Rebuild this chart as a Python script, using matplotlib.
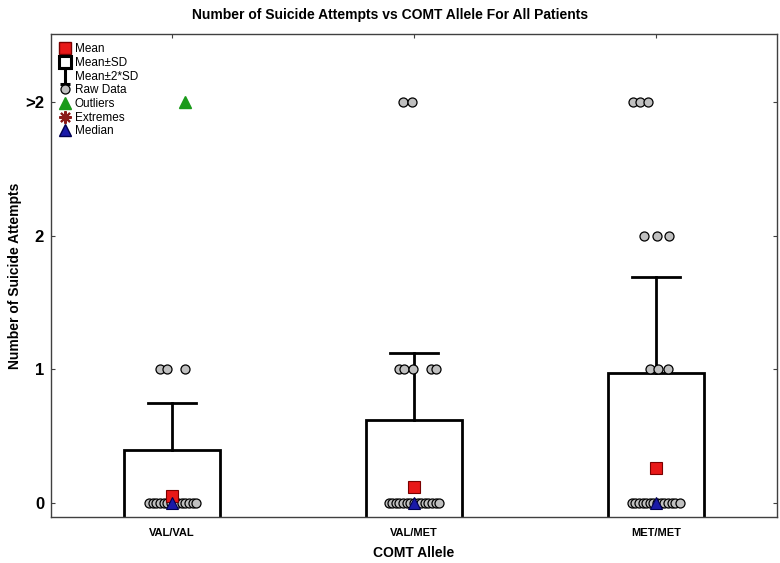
import matplotlib
matplotlib.use("Agg")
import matplotlib.pyplot as plt
from matplotlib.patches import Rectangle
from matplotlib.lines import Line2D
from matplotlib.path import Path

plt.rcParams['font.family'] = ['Liberation Sans', 'DejaVu Sans']

# data
groups = ["VAL/VAL", "VAL/MET", "MET/MET"]
means = [0.05, 0.12, 0.26]
sds = [0.35, 0.50, 0.715]
medians = [0, 0, 0]
ytick_vals = [0, 1, 2, 3]
ytick_labels = ["0", "1", "2", ">2"]

# raw data per group: (value, jitter offsets)
raw_vv = [(0, [-0.095, -0.08, -0.065, -0.05, -0.035, -0.02, -0.005, 0.01, 0.025, 0.04, 0.055, 0.07, 0.085, 0.1]),
          (1, [-0.05, -0.02, 0.054])]
raw_vm = [(0, [-0.105, -0.09, -0.075, -0.06, -0.045, -0.03, -0.015, 0.0, 0.015, 0.03, 0.045, 0.06, 0.075, 0.09, 0.105]),
          (1, [-0.062, -0.041, -0.004, 0.07, 0.09]),
          (3, [-0.046, -0.008])]
raw_mm = [(0, [-0.1, -0.085, -0.07, -0.055, -0.04, -0.025, -0.01, 0.005, 0.02, 0.035, 0.05, 0.065, 0.08, 0.1]),
          (1, [-0.025, 0.008, 0.05]),
          (2, [-0.05, 0.004, 0.054]),
          (3, [-0.095, -0.066, -0.033])]
raw_data = [raw_vv, raw_vm, raw_mm]
outliers = [(0, 3, 0.054)]  # group index, value, jitter

fig = plt.figure(figsize=(7.8, 5.63), dpi=100)
ax = fig.add_axes([0.0654, 0.0817, 0.9306, 0.858])

box_w = 0.4
cap_w = 0.2
for i, (m, s) in enumerate(zip(means, sds)):
    ax.add_patch(Rectangle((i - box_w / 2, m - s), box_w, 2 * s, facecolor="white",
                           edgecolor="black", lw=2.0, zorder=2))
    ax.plot([i, i], [m + s, m + 2 * s], color="black", lw=2.0, zorder=2)
    ax.plot([i - cap_w / 2, i + cap_w / 2], [m + 2 * s] * 2, color="black", lw=2.0, zorder=2)
    ax.plot([i, i], [m - s, m - 2 * s], color="black", lw=2.0, zorder=2)

for i, grp in enumerate(raw_data):
    for val, offs in grp:
        ax.plot([i + o for o in offs], [val] * len(offs), "o", ms=6.5, mfc="#c0c0c0",
                mec="black", mew=0.9, ls="none", zorder=3)

for gi, val, off in outliers:
    ax.plot(gi + off, val, "^", ms=8.5, mfc="#1a9a1a", mec="#1a9a1a", zorder=4)

ax.plot(range(3), means, "s", ms=8.5, mfc="#e81818", mec="#7a0000", mew=0.8, ls="none", zorder=5)
ax.plot(range(3), medians, "^", ms=9, mfc="#1a1aa8", mec="#000050", mew=0.8, ls="none", zorder=6)

ax.set_xlim(-0.5, 2.5)
ax.set_ylim(-0.105, 3.51)
ax.set_xticks(range(3))
ax.set_xticklabels(groups, fontsize=8, fontweight="bold")
ax.set_yticks(ytick_vals)
ax.set_yticklabels(ytick_labels, fontsize=12, fontweight="bold")
ax.tick_params(direction="in", length=3, width=0.8, top=True, right=True, color="#404040")
ax.tick_params(axis="x", pad=8)
ax.tick_params(axis="y", pad=5)
for sp in ax.spines.values():
    sp.set_color("#404040")
    sp.set_linewidth(1.0)

ax.set_xlabel("COMT Allele", fontsize=10, fontweight="bold", labelpad=6)
ax.set_ylabel("Number of Suicide Attempts", fontsize=10, fontweight="bold")
ax.yaxis.set_label_coords(-0.04, 0.5)
fig.suptitle("Number of Suicide Attempts vs COMT Allele For All Patients",
             fontsize=10, fontweight="bold", x=0.5, y=0.985)

ibeam = Path([(-0.6, 1), (0.6, 1), (0, 1), (0, -1), (-0.6, -1), (0.6, -1)],
             [Path.MOVETO, Path.LINETO, Path.MOVETO, Path.LINETO, Path.MOVETO, Path.LINETO])
handles = [
    Line2D([], [], marker="s", ms=8, mfc="#e81818", mec="#7a0000", ls="none"),
    Line2D([], [], marker="s", ms=8, mfc="white", mec="black", mew=2.2, ls="none"),
    Line2D([], [], marker=ibeam, ms=11, mec="black", mew=2.2, ls="none"),
    Line2D([], [], marker="o", ms=6.5, mfc="#c0c0c0", mec="black", mew=0.9, ls="none"),
    Line2D([], [], marker="^", ms=8.5, mfc="#1a9a1a", mec="#1a9a1a", ls="none"),
    Line2D([], [], marker=(8, 2, 0), ms=9, mec="#8b1a1a", mew=1.5, ls="none"),
    Line2D([], [], marker="^", ms=9, mfc="#1a1aa8", mec="#000050", ls="none"),
]
labels = ["Mean", "Mean\u00b1SD", "Mean\u00b12*SD", "Raw Data", "Outliers", "Extremes", "Median"]
ax.legend(handles, labels, loc="upper left", frameon=False, fontsize=8.5, handlelength=0.8,
          handletextpad=0.4, labelspacing=0.14, borderpad=0.2, borderaxespad=0.6)

fig.savefig("out.png", dpi=100)
